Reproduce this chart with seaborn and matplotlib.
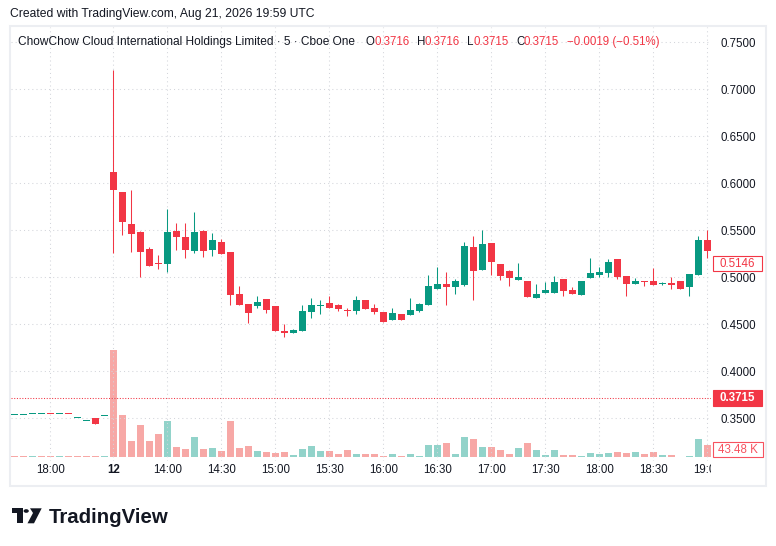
import numpy as np
import seaborn as sns
import matplotlib.pyplot as plt
from matplotlib import transforms, ticker
from matplotlib.patches import Rectangle, Polygon, Circle

# 5-minute bars: tail of previous session (11 bars) + the Aug 12 session
opens = [0.3531, 0.3531, 0.3542, 0.3542, 0.3543, 0.3542, 0.3543, 0.3499, 0.3467, 0.3500, 0.3520,
         0.6120, 0.5907, 0.5567, 0.5482, 0.5300, 0.5156, 0.5145, 0.5493, 0.5429, 0.5283,
         0.5493, 0.5290, 0.5376, 0.5269, 0.4822, 0.4716, 0.4691, 0.4766, 0.4691, 0.4426,
         0.4408, 0.4429, 0.4631, 0.4695, 0.4723, 0.4702, 0.4652, 0.4642, 0.4755, 0.4670,
         0.4628, 0.4546, 0.4606, 0.4599, 0.4642, 0.4706, 0.4872, 0.4926, 0.4897, 0.4918,
         0.5319, 0.5074, 0.5362, 0.5138, 0.5064, 0.4968, 0.4957, 0.4780, 0.4833, 0.4833,
         0.4979, 0.4862, 0.4812, 0.4993, 0.5025, 0.5046, 0.5191, 0.5011, 0.4929, 0.4957,
         0.4957, 0.4933, 0.4940, 0.4957, 0.4901, 0.5025, 0.5394]
highs = [0.3532, 0.3532, 0.3543, 0.3543, 0.3543, 0.3543, 0.3543, 0.3500, 0.3468, 0.3500, 0.3521,
         0.7205, 0.5907, 0.5929, 0.5490, 0.5322, 0.5237, 0.5727, 0.5578, 0.5578, 0.5695,
         0.5503, 0.5471, 0.5407, 0.5269, 0.4907, 0.4716, 0.4798, 0.4766, 0.4691, 0.4500,
         0.4450, 0.4702, 0.4784, 0.4755, 0.4801, 0.4713, 0.4670, 0.4798, 0.4755, 0.4713,
         0.4628, 0.4670, 0.4606, 0.4777, 0.4723, 0.5021, 0.5106, 0.5053, 0.4979, 0.5372,
         0.5436, 0.5500, 0.5362, 0.5138, 0.5074, 0.5149, 0.4957, 0.4926, 0.4947, 0.5011,
         0.4979, 0.4894, 0.4957, 0.5202, 0.5106, 0.5191, 0.5191, 0.5011, 0.4989, 0.4957,
         0.5096, 0.4950, 0.5000, 0.4957, 0.5035, 0.5436, 0.5500]
lows = [0.3531, 0.3531, 0.3542, 0.3542, 0.3542, 0.3542, 0.3542, 0.3499, 0.3467, 0.3439, 0.3520,
        0.5262, 0.5453, 0.5272, 0.5006, 0.5123, 0.5092, 0.5060, 0.5290, 0.5209, 0.5262,
        0.5219, 0.5230, 0.5251, 0.4709, 0.4709, 0.4517, 0.4674, 0.4620, 0.4429, 0.4365,
        0.4408, 0.4429, 0.4567, 0.4610, 0.4674, 0.4642, 0.4589, 0.4610, 0.4663, 0.4610,
        0.4525, 0.4546, 0.4546, 0.4599, 0.4631, 0.4706, 0.4872, 0.4702, 0.4823, 0.4911,
        0.4755, 0.5074, 0.5021, 0.4968, 0.4908, 0.4968, 0.4791, 0.4780, 0.4833, 0.4833,
        0.4801, 0.4823, 0.4812, 0.4993, 0.5004, 0.5004, 0.4982, 0.4801, 0.4929, 0.4908,
        0.4918, 0.4918, 0.4876, 0.4876, 0.4801, 0.5025, 0.5202]
closes = [0.3532, 0.3532, 0.3543, 0.3543, 0.3542, 0.3543, 0.3542, 0.3500, 0.3468, 0.3439, 0.3521,
          0.5932, 0.5588, 0.5464, 0.5272, 0.5123, 0.5138, 0.5482, 0.5432, 0.5294, 0.5482,
          0.5283, 0.5397, 0.5251, 0.4815, 0.4709, 0.4624, 0.4734, 0.4652, 0.4429, 0.4408,
          0.4436, 0.4638, 0.4702, 0.4702, 0.4674, 0.4663, 0.4642, 0.4755, 0.4663, 0.4631,
          0.4525, 0.4617, 0.4546, 0.4649, 0.4713, 0.4904, 0.4926, 0.4897, 0.4957, 0.5330,
          0.5067, 0.5351, 0.5160, 0.5011, 0.4993, 0.5000, 0.4791, 0.4819, 0.4862, 0.4947,
          0.4855, 0.4823, 0.4957, 0.5043, 0.5053, 0.5160, 0.5004, 0.4929, 0.4957, 0.4950,
          0.4918, 0.4940, 0.4918, 0.4876, 0.5035, 0.5394, 0.5280]
# volume in thousands
volumes = [3.5, 3.5, 3.5, 3.5, 3.5, 3.5, 6, 6, 3.5, 3.5, 3.5,
           379, 150, 59, 114, 59, 82, 128, 36, 29, 72, 29, 33, 22, 128, 33, 40, 22,
           20, 17, 20, 8, 29, 41, 22, 22, 13, 27, 13, 10, 13, 3.5, 10, 3.5, 13, 6,
           45, 45, 52, 10, 73, 63, 38, 38, 27, 12, 33, 52, 26, 8, 26, 8, 8, 5, 15,
           12, 15, 19, 15, 19, 12, 19, 8, 8, 2, 5, 65, 43.48]
vol_up_pre = [False, False, True, False, False, True, False, False, False, False, True]

tick_pos = [4, 11, 17, 23, 29, 35, 41, 47, 53, 59, 65, 71, 77]
tick_labels = ['18:00', '12', '14:00', '14:30', '15:00', '15:30', '16:00',
               '16:30', '17:00', '17:30', '18:00', '18:30', '19:00']
price_ticks = [0.35, 0.40, 0.45, 0.50, 0.55, 0.60, 0.65, 0.70, 0.75]
last_price = 0.3715
marker_price = 0.5146
last_volume = '43.48 K'

UP, DOWN = '#089981', '#f23645'
VUP, VDOWN = '#92d3ca', '#f7a8a6'
TXT = '#131722'

sns.set_theme(style='white')
plt.rcParams['font.family'] = ['Liberation Sans', 'DejaVu Sans']

W, H = 776, 546
def fx(p): return p / W
def fy(p): return 1 - p / H

fig = plt.figure(figsize=(W / 100, H / 100), dpi=100)
fig.patch.set_facecolor('white')

# chart frame
fig.add_artist(Rectangle((fx(10), fy(486)), 756 / W, 460 / H, transform=fig.transFigure,
                         fill=False, ec='#eceef2', lw=1.5))

ax = fig.add_axes([fx(11), fy(461), 700 / W, 434 / H])
vax = ax.twinx()
ax.set_zorder(2)
vax.set_zorder(1)
ax.patch.set_visible(False)

x = np.arange(len(opens))
o = np.array(opens); c = np.array(closes)
up = c >= o
cols = np.where(up, UP, DOWN)

# volume (seaborn bars on the lower scale)
vol_up = list(vol_up_pre) + list(up[len(vol_up_pre):])
vdir = ['up' if v else 'down' for v in vol_up]
sns.barplot(x=x, y=volumes, hue=vdir, palette={'up': VUP, 'down': VDOWN},
            native_scale=True, dodge=False, width=0.8, saturation=1,
            legend=False, errorbar=None, linewidth=0, ax=vax)
vax.set_ylim(-13, 1521)
vax.axis('off')

# candles
ax.vlines(x, lows, highs, colors=cols, lw=0.75, zorder=3)
body = np.maximum(np.abs(c - o), 0.0011)
ax.bar(x, body, bottom=np.minimum(o, c), width=0.78, color=cols, lw=0, zorder=4)

ax.set_xlim(-0.37, 77.41)
vax.set_xlim(-0.37, 77.41)
ax.set_ylim(0.3046, 0.7663)
ax.set_xticks(tick_pos)
ax.set_yticks(price_ticks)
ax.yaxis.set_major_formatter(ticker.FormatStrFormatter('%.4f'))
ax.tick_params(axis='x', length=0, labelbottom=False)
ax.tick_params(axis='y', length=0, pad=6.5, labelsize=8.3, labelcolor=TXT,
               left=False, labelleft=False, right=False, labelright=True)
ax.grid(True, color='#d3d5db', linestyle=(0, (1, 3)), linewidth=0.75, zorder=0)
for s in ax.spines.values():
    s.set_visible(False)
ax.set_xlabel('')
ax.set_ylabel('')

ax.axhline(last_price, color=DOWN, linestyle=(0, (1, 1.6)), lw=0.75, zorder=2)

# right scale boxes
bt = transforms.blended_transform_factory(fig.transFigure, ax.transData)
bh = 15.7 / 940
ax.add_artist(Rectangle((fx(713), last_price - bh / 2), 48.5 / W, bh, transform=bt,
                        fc=DOWN, ec=DOWN, lw=0.8, clip_on=False))
ax.text(fx(737.5), last_price, f'{last_price:.4f}', transform=bt, ha='center', va='center',
        color='white', fontsize=8.3, fontweight='bold', clip_on=False)
ax.add_artist(Rectangle((fx(713), marker_price - bh / 2), 48.5 / W, bh, transform=bt,
                        fc='white', ec=DOWN, lw=0.8, clip_on=False))
ax.text(fx(737.5), marker_price, f'{marker_price:.4f}', transform=bt, ha='center',
        va='center', color=DOWN, fontsize=8.3, clip_on=False)
vt = transforms.blended_transform_factory(fig.transFigure, vax.transData)
vax.add_artist(Rectangle((fx(713), 0), 50 / W, 53, transform=vt,
                         fc='white', ec='#f7525f', lw=0.8, clip_on=False))
vax.text(fx(738), 26.5, last_volume, transform=vt, ha='center', va='center',
         color='#f7525f', fontsize=8.3, clip_on=False)

# time scale
tax = fig.add_axes([fx(11), fy(485), 700 / W, 24 / H])
tax.set_xlim(-0.37, 77.41)
tax.set_ylim(0, 1)
tax.axis('off')
for p, lab in zip(tick_pos, tick_labels):
    tax.text(p, 0.62, lab, ha='center', va='center', fontsize=8.3, color=TXT,
             fontweight='bold' if lab == '12' else 'normal', clip_on=True)

# header
fig.text(fx(10), fy(14), 'Created with TradingView.com, Aug 21, 2026 19:59 UTC',
         ha='left', va='center', fontsize=8.7, color=TXT)
hy = fy(42)
fig.text(fx(18), hy, 'ChowChow Cloud International Holdings Limited · 5 · Cboe One',
         ha='left', va='center', fontsize=8.6, color=TXT)
for px_, s, col in [(366, 'O', TXT), (374.5, '0.3716', DOWN), (417, 'H', TXT),
                    (424.3, '0.3716', DOWN), (467, 'L', TXT), (473.3, '0.3715', DOWN),
                    (516.7, 'C', TXT), (524, '0.3715', DOWN),
                    (567.3, '−0.0019 (−0.51%)', DOWN)]:
    fig.text(fx(px_), hy, s, ha='left', va='center', fontsize=8.3, color=col)

# logo
def pts(lst):
    return [(fx(a), fy(b)) for a, b in lst]
fig.add_artist(Polygon(pts([(12.3, 508.3), (22.7, 508.3), (22.7, 523.3), (17.3, 523.3),
                            (17.3, 513.3), (12.3, 513.3)]), closed=True,
                       transform=fig.transFigure, fc=TXT, ec='none'))
fig.add_artist(Circle((fx(26.2), fy(511)), 2.6 / W, transform=fig.transFigure,
                      fc=TXT, ec='none'))
fig.add_artist(Polygon(pts([(30, 508.3), (41.7, 508.3), (34, 523.3), (27.5, 523.3),
                            (33, 513)]), closed=True,
                       transform=fig.transFigure, fc=TXT, ec='none'))
fig.text(fx(49), fy(523.3), 'TradingView', ha='left', va='baseline', fontsize=14.7,
         fontweight='bold', color=TXT)

fig.savefig('out.png', dpi=100)
